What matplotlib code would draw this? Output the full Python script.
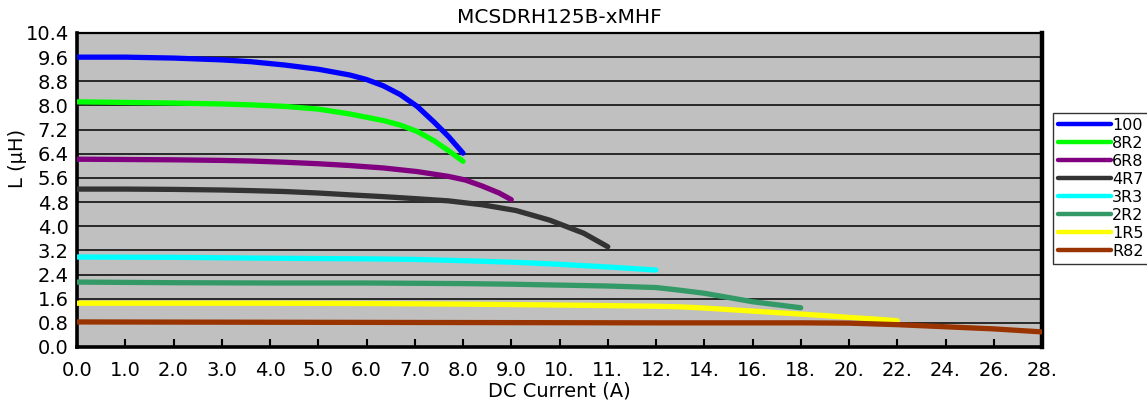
import matplotlib

matplotlib.use("Agg")
import matplotlib.pyplot as plt
import numpy as np

# inductance vs DC current
x_100 = [0, 1, 2, 3, 3.6, 4.3, 5, 5.65, 6, 6.35, 6.7, 7.05, 7.4, 7.7, 8]
y_100 = [9.6, 9.6, 9.57, 9.51, 9.45, 9.34, 9.2, 9.01, 8.86, 8.65, 8.36, 7.97, 7.45, 6.97, 6.42]
x_8r2 = [0, 1, 2, 3, 3.6, 4.3, 5, 5.65, 6.35, 6.7, 7.05, 7.4, 7.7, 8]
y_8r2 = [8.12, 8.1, 8.08, 8.05, 8.02, 7.97, 7.88, 7.72, 7.5, 7.35, 7.14, 6.83, 6.5, 6.15]
x_6r8 = [0, 1, 2, 3, 3.6, 4.3, 5, 5.65, 6.35, 7.05, 7.7, 8.05, 8.4, 8.75, 9]
y_6r8 = [6.22, 6.21, 6.2, 6.18, 6.16, 6.12, 6.07, 6.01, 5.93, 5.81, 5.65, 5.53, 5.33, 5.1, 4.88]
x_4r7 = [0, 1, 2, 3, 3.6, 4.3, 5, 5.65, 6.35, 7.05, 7.7, 8.4, 9.1, 9.8, 10.5, 11]
y_4r7 = [5.23, 5.23, 5.22, 5.2, 5.18, 5.15, 5.1, 5.04, 4.98, 4.91, 4.84, 4.71, 4.52, 4.2,
         3.77, 3.32]
x_3r3 = [0, 2, 4, 6, 7, 8, 9, 10, 11, 12]
y_3r3 = [2.98, 2.97, 2.94, 2.92, 2.9, 2.86, 2.81, 2.74, 2.65, 2.55]
x_2r2 = [0, 2, 4, 6, 8, 9, 10, 11, 12, 13, 14, 15, 16, 17, 18]
y_2r2 = [2.15, 2.13, 2.12, 2.12, 2.1, 2.08, 2.05, 2.02, 1.97, 1.88, 1.78, 1.64, 1.5, 1.4, 1.3]
x_1r5 = [0, 2, 4, 6, 8, 10, 11, 12, 13, 14, 15, 16, 17, 18, 19, 20, 21, 22]
y_1r5 = [1.45, 1.45, 1.45, 1.44, 1.42, 1.39, 1.37, 1.35, 1.33, 1.29, 1.24, 1.19,
         1.14, 1.09, 1.04, 0.98, 0.93, 0.87]
x_r82 = [0, 4, 8, 12, 16, 18, 20, 22, 24, 26, 28]
y_r82 = [0.83, 0.82, 0.81, 0.8, 0.8, 0.8, 0.79, 0.74, 0.67, 0.6, 0.5]

series = [("100", x_100, y_100, "#0000ff"),
          ("8R2", x_8r2, y_8r2, "#00ff00"),
          ("6R8", x_6r8, y_6r8, "#800080"),
          ("4R7", x_4r7, y_4r7, "#333333"),
          ("3R3", x_3r3, y_3r3, "#00ffff"),
          ("2R2", x_2r2, y_2r2, "#339966"),
          ("1R5", x_1r5, y_1r5, "#ffff00"),
          ("R82", x_r82, y_r82, "#993300")]

x_ticks = [0, 1, 2, 3, 4, 5, 6, 7, 8, 9, 10, 11, 12, 14, 16, 18, 20, 22, 24, 26, 28]
x_ticklabels = ["0.0", "1.0", "2.0", "3.0", "4.0", "5.0", "6.0", "7.0", "8.0", "9.0",
                "10.", "11.", "12.", "14.", "16.", "18.", "20.", "22.", "24.", "26.", "28."]
y_ticks = [0.0, 0.8, 1.6, 2.4, 3.2, 4.0, 4.8, 5.6, 6.4, 7.2, 8.0, 8.8, 9.6, 10.4]

BREAK = 12  # axis step doubles past 12 A


def fwd(x):
    x = np.asarray(x, float)
    return np.where(x <= BREAK, x, BREAK + (x - BREAK) / 2)


def inv(u):
    u = np.asarray(u, float)
    return np.where(u <= BREAK, u, BREAK + (u - BREAK) * 2)


plt.rcParams["font.family"] = ["DejaVu Sans"]
fig = plt.figure(figsize=(11.47, 4.09), dpi=100)
ax = fig.add_axes([77 / 1147, 62 / 409, 965 / 1147, 314 / 409])
ax.set_facecolor("#c0c0c0")
ax.set_xscale("function", functions=(fwd, inv))

for y in y_ticks:
    ax.axhline(y, color="black", lw=1.1, zorder=1)
for name, xs, ys, c in series:
    ax.plot(xs, ys, color=c, lw=3.8, label=name, solid_capstyle="round",
            solid_joinstyle="round", zorder=3)

ax.set_xlim(0, 28)
ax.set_ylim(0, 10.4)
ax.set_xticks(x_ticks)
ax.set_xticklabels(x_ticklabels)
ax.set_yticks(y_ticks)
ax.set_yticklabels([f"{v:.1f}" for v in y_ticks])
ax.tick_params(axis="x", direction="in", length=6, width=1.5, labelsize=14, pad=10)
ax.tick_params(axis="y", length=0, labelsize=14, pad=6)
ax.xaxis.set_minor_locator(matplotlib.ticker.NullLocator())
for side, w in [("left", 2.6), ("bottom", 2.6), ("top", 1.6), ("right", 3.2)]:
    ax.spines[side].set_linewidth(w)
    ax.spines[side].set_color("black")

ax.set_xlabel("DC Current (A)", fontsize=14, labelpad=1)
ax.set_ylabel("L (µH)", fontsize=14, labelpad=2)
ax.yaxis.set_label_coords(-0.052, 0.6)
ax.set_title("MCSDRH125B-xMHF", fontsize=14.5, pad=7)

leg = fig.legend(loc="upper left", bbox_to_anchor=(1053 / 1147, 1 - 113 / 409),
                 borderaxespad=0, fontsize=11.5, frameon=True, fancybox=False,
                 edgecolor="black", handlelength=3.3, handletextpad=0.1,
                 labelspacing=0.19, borderpad=0.3)
leg.get_frame().set_linewidth(1.0)
for h in leg.get_lines():
    h.set_linewidth(3.2)

fig.savefig("out.png", dpi=100)
